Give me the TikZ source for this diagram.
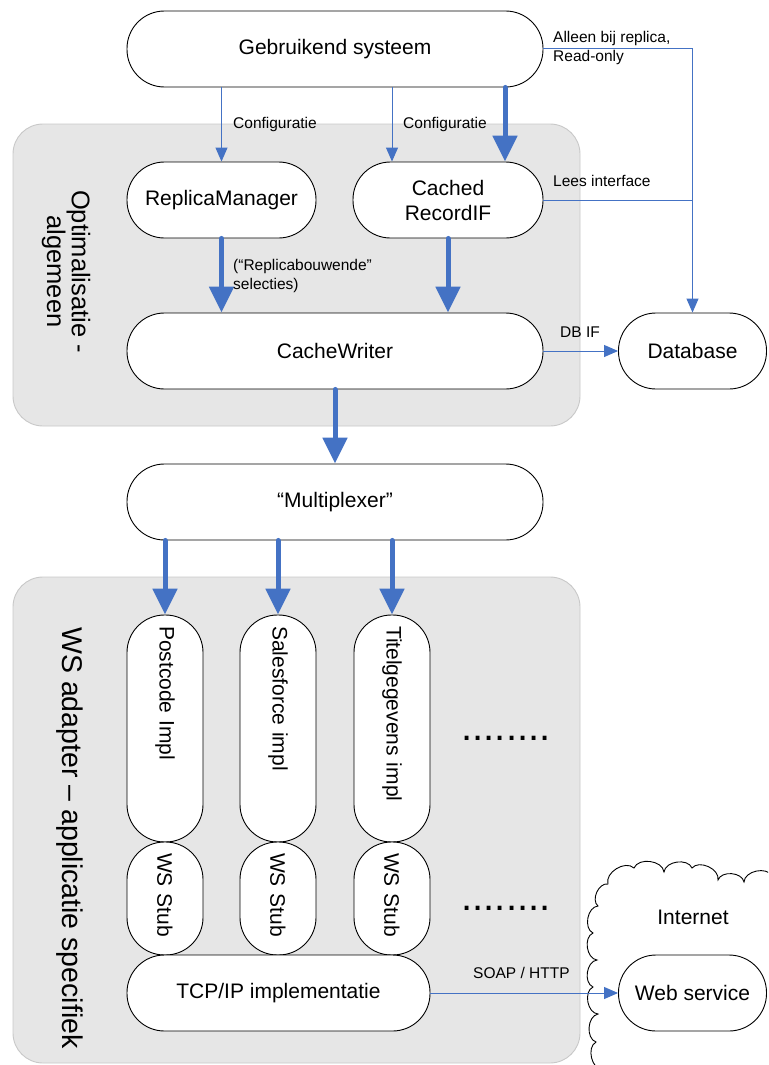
\documentclass[tikz,border=0pt]{standalone}
\usepackage{fontspec}
\setmainfont{Liberation Sans}
\usetikzlibrary{arrows.meta,calc}
\definecolor{arrblue}{HTML}{4472C4}
\definecolor{panelfill}{HTML}{E6E6E6}
\definecolor{panelline}{HTML}{C8C8C8}
\begin{document}
\begin{tikzpicture}[x=1pt,y=-1pt,
  pill/.style={draw=black, line width=0.9pt, fill=white, rounded corners=37.5pt, minimum height=76pt, inner sep=0pt, font=\fontsize{21}{25}\selectfont, align=center},
  vpill/.style={draw=black, line width=0.9pt, fill=white, rounded corners=37.5pt, minimum height=76pt, inner ysep=0pt, inner xsep=11pt, rotate=-90, font=\fontsize{21}{25}\selectfont, align=left},
  panel/.style={draw=panelline, fill=panelfill, line width=0.9pt, rounded corners=30pt},
  thinarrow/.style={draw=arrblue, line width=1pt, -{Triangle[length=14pt,width=12pt]}},
  thinline/.style={draw=arrblue, line width=1pt},
  thickarrow/.style={draw=arrblue, line width=5pt, line cap=round, -{Triangle[length=26pt,width=24pt]}},
  lbl/.style={inner sep=0pt, font=\fontsize{15.5}{19}\selectfont, align=left},
  bigtext/.style={inner sep=0pt, rotate=-90},
  cloudline/.style={draw=black, line width=0.9pt},
]
\useasboundingbox (0,0) rectangle (768,1065);
\clip (0,0) rectangle (768,1065);

% panels
\draw[panel] (13,124) rectangle (580,426);
\draw[panel] (13,577) rectangle (580,1063);

% cloud
\draw[cloudline] (603,1070) to[bend left=75] (596,1042) to[bend left=75] (598,1014)
  to[bend left=75] (593,987) to[bend left=75] (597,960) to[bend left=75] (593,933)
  to[bend left=75] (598,906) to[bend left=75] (608,884) to[bend left=75] (634,868)
  to[bend left=75] (664,872) to[bend left=75] (692,868) to[bend left=75] (718,880)
  to[bend left=75] (744,882) to[bend left=75] (772,876);

% helper coordinates
\coordinate (c2) at (392,0);
\coordinate (c3) at (505,0);

% nodes
\node[pill, minimum width=416pt] (geb) at (335,49) {Gebruikend systeem};
\node[pill, minimum width=189pt] (rm) at (221.5,200) {ReplicaManager};
\node[pill, minimum width=190pt] (cr) at (448,200) {Cached\\RecordIF};
\node[pill, minimum width=416pt] (cw) at (335,351) {CacheWriter};
\node[pill, minimum width=148pt] (db) at (692.5,351) {Database};
\node[pill, minimum width=416pt] (mux) at (335,502) {“Multiplexer”};

\node[vpill, minimum width=227pt, text width=205pt] (pc) at (165,728.5) {Postcode Impl};
\node[vpill, minimum width=227pt, text width=205pt] (sf) at (278,728.5) {Salesforce impl};
\node[vpill, minimum width=227pt, text width=205pt] (tg) at (392,728.5) {Titelgegevens impl};
\node[vpill, minimum width=113pt, text width=91pt] (s1) at (165,898.5) {WS Stub};
\node[vpill, minimum width=113pt, text width=91pt] (s2) at (278,898.5) {WS Stub};
\node[vpill, minimum width=113pt, text width=91pt] (s3) at (392,898.5) {WS Stub};
\node[pill, minimum width=303pt] (tcp) at (278.5,993) {TCP/IP implementatie};
\node[pill, minimum width=148pt] (ws) at (692.5,993) {Web service};
\node[inner sep=0pt, font=\fontsize{21}{25}\selectfont] (inet) at (693,917) {Internet};

\node[inner sep=0pt, font=\fontsize{40}{40}\selectfont] (dots1) at (506,738) {........};
\node[inner sep=0pt, font=\fontsize{40}{40}\selectfont] (dots2) at (506,908) {........};

% vertical titles
\node[bigtext, font=\fontsize{25.5}{23}\selectfont, align=center] (opt) at (66,271.5) {Optimalisatie -\\algemeen};
\node[bigtext, font=\fontsize{28.5}{30}\selectfont, anchor=base west] (wsa) at (62,627) {WS adapter – applicatie specifiek};

% connectors
\draw[thinarrow] (geb.south -| rm.north) -- (rm.north);
\draw[thinarrow] (geb.south -| c2) -- (cr.north -| c2);
\draw[thickarrow] (geb.south -| c3) -- (cr.north -| c3);
\draw[thinarrow] (geb.east) -| (db.north);
\draw[thinline] (cr.east) -- (cr.east -| db.north);
\draw[thickarrow] (rm.south) -- (cw.north -| rm.south);
\draw[thickarrow] (cr.south) -- (cw.north -| cr.south);
\draw[thinarrow] (cw.east) -- (db.west);
\draw[thickarrow] (cw.south) -- (mux.north);
\draw[thickarrow] (mux.south -| pc.west) -- (pc.west);
\draw[thickarrow] (mux.south -| sf.west) -- (sf.west);
\draw[thickarrow] (mux.south -| tg.west) -- (tg.west);
\draw[thinarrow] (tcp.east) -- (ws.west);

% labels
\node[lbl, anchor=west] (l1) at (233,124) {Configuratie};
\node[lbl, anchor=west] (l2) at (403,124) {Configuratie};
\node[lbl, anchor=west] (l3) at (553,48) {Alleen bij replica,\\Read-only};
\node[lbl, anchor=west] (l4) at (553,181) {Lees interface};
\node[lbl, anchor=west] (l5) at (233,276) {(“Replicabouwende”\\selecties)};
\node[lbl, anchor=west] (l6) at (560,332) {DB IF};
\node[lbl, anchor=west] (l7) at (473,973) {SOAP / HTTP};
\end{tikzpicture}
\end{document}
